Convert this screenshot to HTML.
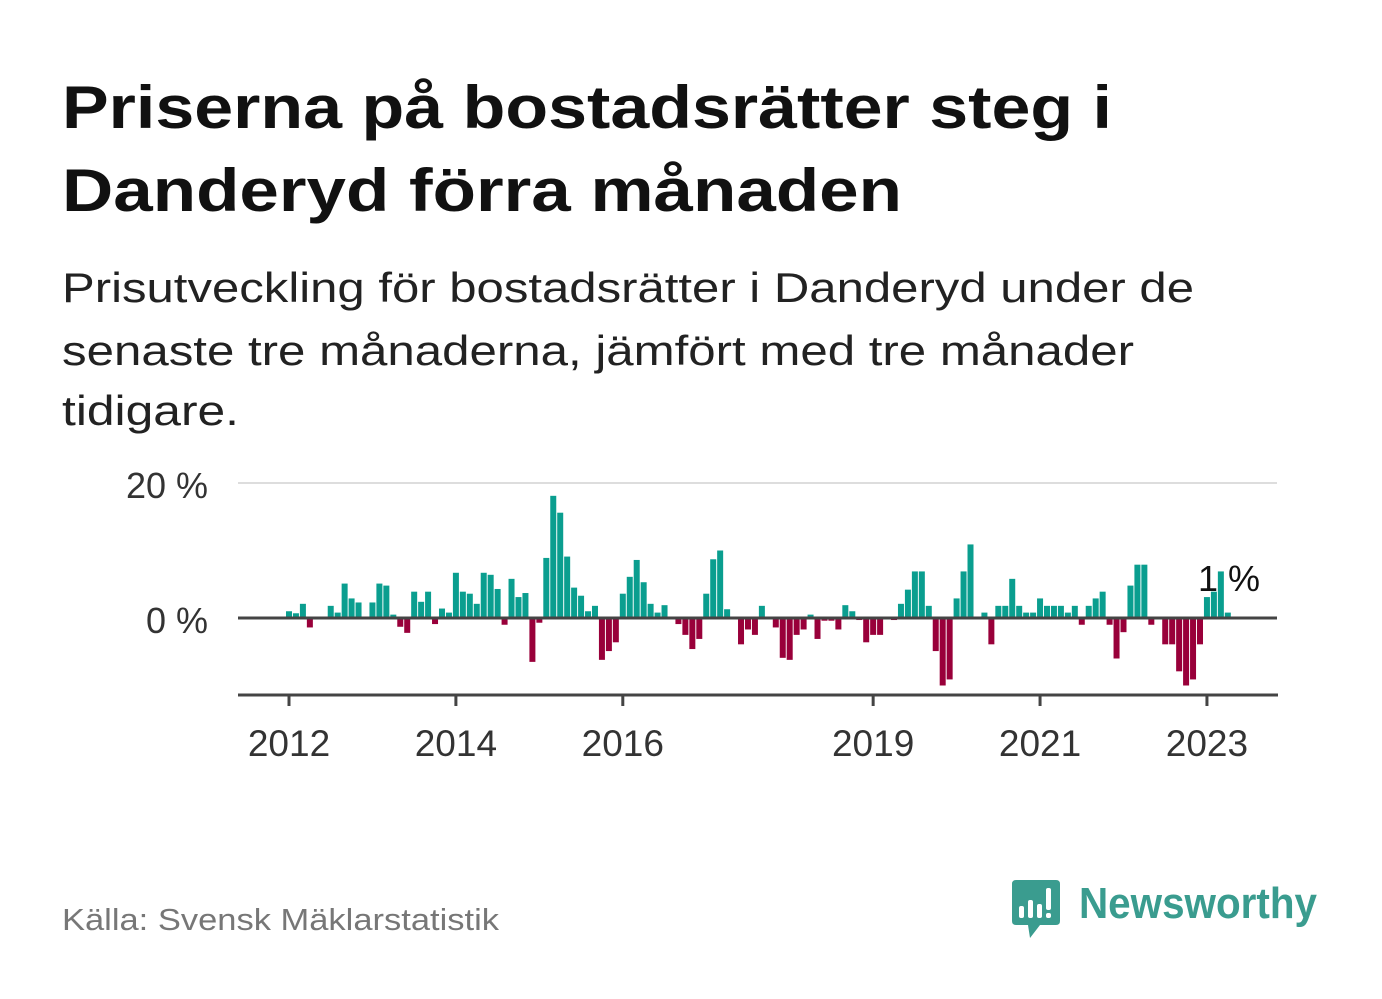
<!DOCTYPE html>
<html><head><meta charset="utf-8"><style>
html,body{margin:0;padding:0;background:#fff;}
svg{display:block;font-family:"Liberation Sans",sans-serif;}
</style></head><body>
<svg width="1382" height="999" viewBox="0 0 1382 999">
<text x="62" y="128" font-size="60" font-weight="bold" fill="#111" textLength="1050" lengthAdjust="spacingAndGlyphs">Priserna på bostadsrätter steg i</text>
<text x="62" y="211" font-size="60" font-weight="bold" fill="#111" textLength="840" lengthAdjust="spacingAndGlyphs">Danderyd förra månaden</text>
<text x="62" y="302" font-size="42" fill="#222" textLength="1132" lengthAdjust="spacingAndGlyphs">Prisutveckling för bostadsrätter i Danderyd under de</text>
<text x="62" y="365" font-size="42" fill="#222" textLength="1072" lengthAdjust="spacingAndGlyphs">senaste tre månaderna, jämfört med tre månader</text>
<text x="62" y="425" font-size="42" fill="#222" textLength="177" lengthAdjust="spacingAndGlyphs">tidigare.</text>
<g id="plot"></g>
<text x="62" y="930" font-size="31" fill="#777" textLength="437" lengthAdjust="spacingAndGlyphs">Källa: Svensk Mäklarstatistik</text>
<g>
<path d="M1016 880 H1056 Q1060 880 1060 884 V921 Q1060 925 1056 925 H1040 L1030 938 L1028 925 H1016 Q1012 925 1012 921 V884 Q1012 880 1016 880 Z" fill="#3a9c8f"/>
<rect x="1019" y="906" width="5" height="12" rx="2" fill="#fff"/>
<rect x="1028" y="900" width="5" height="18" rx="2" fill="#fff"/>
<rect x="1037" y="904" width="5" height="14" rx="2" fill="#fff"/>
<rect x="1046" y="888" width="5" height="22" rx="2" fill="#fff"/>
<rect x="1046" y="913" width="5" height="5" rx="2" fill="#fff"/>
<text x="1079" y="918" font-size="44" font-weight="bold" fill="#3a9c8f" textLength="238" lengthAdjust="spacingAndGlyphs">Newsworthy</text>
</g>
</svg>
<script>
const values=[1.0,0.7,2.1,-1.4,0,0,1.8,0.8,5.1,2.9,2.3,0,2.3,5.1,4.8,0.5,-1.3,-2.2,3.9,2.4,3.9,-0.9,1.4,0.8,
6.7,3.9,3.6,2.1,6.7,6.4,4.3,-1.0,5.8,3.1,3.7,-6.5,-0.7,8.9,18.1,15.6,9.1,4.5,3.3,1.0,1.8,-6.2,-4.9,-3.6,
3.6,6.1,8.6,5.3,2.1,0.8,1.9,0,-0.9,-2.5,-4.6,-3.1,3.6,8.7,10.0,1.3,0,-3.9,-1.7,-2.5,1.8,0,-1.4,-5.9,
-6.2,-2.5,-1.7,0.5,-3.1,-0.4,-0.4,-1.7,1.9,1.0,-0.3,-3.6,-2.5,-2.5,0,-0.3,2.1,4.2,6.9,6.9,1.8,-4.9,-10,-9.1,
2.9,6.9,10.9,0,0.8,-3.9,1.8,1.8,5.8,1.8,0.8,0.8,2.9,1.8,1.8,1.8,0.8,1.8,-1.0,1.8,2.9,3.9,-1.0,-6.0,-2.1,
4.8,7.9,7.9,-1.0,0,-3.9,-3.9,-7.9,-10,-9.1,-3.9,3.1,3.9,6.9,0.8];
const startYear=2012;
const tickYears=[2012,2014,2016,2019,2021,2023];
const yTicks=[0,20];
const lastLabel="1 %";
const NS="http://www.w3.org/2000/svg";
const g=document.getElementById('plot');
const x0=289,mw=83.45/12;
const xs=i=>x0+i*mw;
const xYear=y=>x0+(y-startYear)*12*mw;
const y0=618,ppu=6.75;
const ys=v=>y0-v*ppu;
function mk(t,a){const e=document.createElementNS(NS,t);for(const k in a)e.setAttribute(k,a[k]);g.appendChild(e);return e;}
yTicks.forEach(v=>{
 if(v!==0){const l=mk('line',{x1:238,x2:1277,y1:ys(v),y2:ys(v),stroke:'#dddddd','stroke-width':2});
 
 }
 const t=mk('text',{x:208,y:ys(v)+15,'font-size':36,fill:'#333','text-anchor':'end'});
 t.textContent=v+' %';
 
 
});
const lt=mk('text',{x:1198,y:591,'font-size':36,fill:'#111'});
lt.textContent=lastLabel;


values.forEach((v,i)=>{
 if(v===0)return;
 const top=Math.min(ys(v),y0),h=Math.abs(v)*ppu;
 const r=mk('rect',{x:xs(i)-3,y:top,width:6,height:h,fill:v>0?'#0a9e8f':'#99003a'});
 
 
});
const zl=mk('line',{x1:238,x2:1277,y1:y0,y2:y0,stroke:'#444','stroke-width':3});


const ax=mk('line',{x1:238,x2:1278,y1:695,y2:695,stroke:'#444','stroke-width':3});


tickYears.forEach(yr=>{
 const x=xYear(yr);
 const tk=mk('line',{x1:x,x2:x,y1:695,y2:706,stroke:'#444','stroke-width':3});
 
 
 const t=mk('text',{x:x,y:756,'font-size':37,fill:'#333','text-anchor':'middle'});
 t.textContent=yr;
 
 
});
</script>
</body></html>
